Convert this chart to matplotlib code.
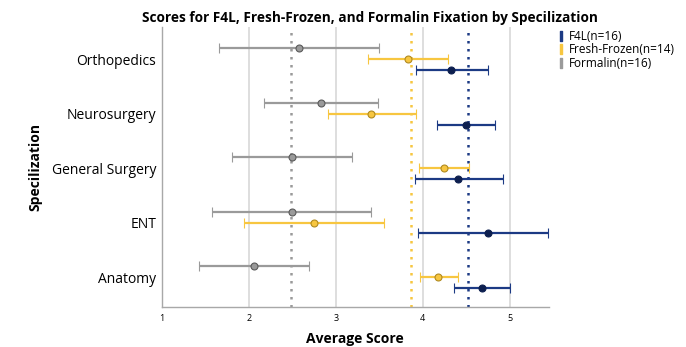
import matplotlib; matplotlib.use("Agg")
import matplotlib.pyplot as plt
from matplotlib.lines import Line2D
import numpy as np

plt.rcParams["font.family"] = ["Open Sans", "DejaVu Sans"]

cats = ["Anatomy", "ENT", "General Surgery", "Neurosurgery", "Orthopedics"]
# mean, lower, upper for each group
f4l_mean = [4.68, 4.75, 4.41, 4.50, 4.33]
f4l_lo = [4.36, 3.94, 3.91, 4.16, 3.92]
f4l_hi = [5.00, 5.44, 4.92, 4.83, 4.75]
ff_mean = [4.18, 2.75, 4.25, 3.41, 3.83]
ff_lo = [3.97, 1.95, 3.96, 2.91, 3.37]
ff_hi = [4.41, 3.55, 4.53, 3.92, 4.29]
fo_mean = [2.06, 2.50, 2.50, 2.83, 2.58]
fo_lo = [1.43, 1.58, 1.81, 2.18, 1.66]
fo_hi = [2.69, 3.41, 3.19, 3.49, 3.50]
ref_lines = {"F4L": 4.52, "Fresh-Frozen": 3.86, "Formalin": 2.48}

BLUE = "#1c3a84"; BLUE_D = "#0d1f4f"
YEL = "#f7c640"; YEL_D = "#b08a20"
GRAY = "#9a9a9a"; GRAY_D = "#5a5a5a"

fig = plt.figure(figsize=(6.86, 3.47), dpi=100)
ax = fig.add_axes([0.236, 0.116, 0.564, 0.806])

y = np.arange(len(cats))
series = [("Formalin(n=16)", fo_mean, fo_lo, fo_hi, 0.2, GRAY, GRAY_D, ref_lines["Formalin"]),
          ("Fresh-Frozen(n=14)", ff_mean, ff_lo, ff_hi, 0.0, YEL, YEL_D, ref_lines["Fresh-Frozen"]),
          ("F4L(n=16)", f4l_mean, f4l_lo, f4l_hi, -0.2, BLUE, BLUE_D, ref_lines["F4L"])]

for xv in [2, 3, 4, 5]:
    ax.axvline(xv, color="#d4d4d4", lw=1.1, zorder=0)

for name, m, lo, hi, off, c, cd, ref in series:
    m = np.array(m); lo = np.array(lo); hi = np.array(hi)
    ax.axvline(ref, color=c, ls=(0, (1, 2.2)), lw=1.8, zorder=1)
    ax.errorbar(m, y + off, xerr=[m - lo, hi - m], fmt="o", color=c, ecolor=c,
                elinewidth=1.6, capsize=3.5, capthick=1.6, ms=5,
                mfc=c if c != BLUE else BLUE_D, mec=cd, mew=0.8, zorder=3)

ax.set_xlim(1, 5.45)
ax.set_ylim(-0.545, 4.59)
ax.set_yticks(y)
ax.set_yticklabels(cats, fontsize=10)
ax.set_xticks([1, 2, 3, 4, 5])
ax.set_xticklabels(["1", "2", "3", "4", "5"], fontsize=6.5)
ax.tick_params(axis="y", length=0, pad=4)
ax.tick_params(axis="x", length=0, pad=5)
for s in ["top", "right"]:
    ax.spines[s].set_visible(False)
for s in ["left", "bottom"]:
    ax.spines[s].set_color("#a8a8a8"); ax.spines[s].set_linewidth(1.0)

ax.set_xlabel("Average Score", fontsize=10, fontweight="bold", labelpad=7)
ax.set_ylabel("Specilization", fontsize=10, fontweight="bold", labelpad=7)
ax.set_title("Scores for F4L, Fresh-Frozen, and Formalin Fixation by Specilization",
             fontsize=9.8, fontweight="bold", pad=4, x=0.537)

handles = [Line2D([], [], ls="none", marker=r"$\mathbf{I}$", ms=6.5, color=BLUE),
           Line2D([], [], ls="none", marker=r"$\mathbf{I}$", ms=6.5, color=YEL),
           Line2D([], [], ls="none", marker=r"$\mathbf{I}$", ms=6.5, color=GRAY)]
fig.legend(handles, ["F4L(n=16)", "Fresh-Frozen(n=14)", "Formalin(n=16)"],
           loc="upper left", bbox_to_anchor=(0.795, 0.945), frameon=False,
           fontsize=8.5, handlelength=0.8, handletextpad=0.3, labelspacing=0.05)

fig.savefig("out.png", dpi=100)
